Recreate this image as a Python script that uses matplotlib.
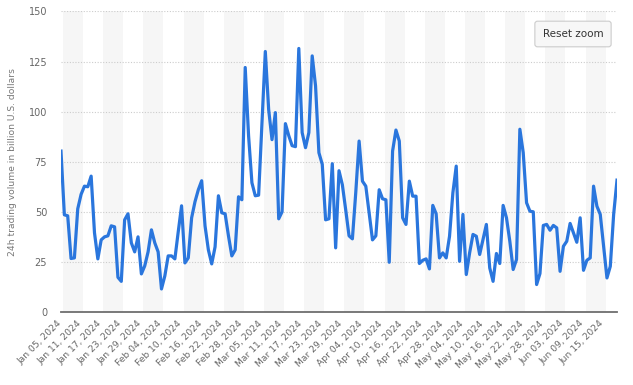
import matplotlib

matplotlib.use("Agg")
import matplotlib.pyplot as plt
import numpy as np
import pandas as pd

# daily 24h trading volume (billion USD), starting Jan 05, 2024
start_date = "2024-01-05"
volume = [
    80.3, 48.5, 48, 26.7, 27, 51.5, 58.7, 62.8, 62.5, 67.8,
    39.5, 26.5, 36, 37.5, 38, 43, 42.5, 17.3, 15.3, 46,
    49, 34.5, 30, 37.5, 19, 23, 30, 41, 34.5, 30,
    11.5, 18, 28, 28, 26.5, 40, 53, 24.5, 27, 47,
    55, 61, 65.5, 43, 31, 24, 32.5, 58, 49.5, 49,
    38, 28, 31, 57.5, 56, 122, 88, 64.5, 58, 58.3,
    94, 130, 101, 86, 99.5, 46.5, 50, 94, 88, 83,
    82.5, 131.5, 89.5, 82, 89.5, 127.8, 112.8, 79.5, 73.7, 46,
    46.5, 74, 32, 70.5, 63.5, 51, 38, 36.5, 59.5, 85.3,
    65.3, 62.8, 49.5, 36, 38, 61, 56.5, 56, 24.8, 80.3,
    90.8, 85.3, 47, 43.7, 65.3, 57.8, 57.8, 24.2, 25.8, 26.5,
    21.5, 53.2, 49, 27, 29.5, 27, 37.8, 59.5, 72.8, 25.3,
    48.7, 18.7, 29.5, 38.7, 37.8, 28.7, 36.2, 43.7, 22, 15.3,
    29.2, 24.2, 53.2, 47, 35.3, 21.2, 26.2, 91.2, 79.5, 54.5,
    50.3, 50, 13.7, 19.2, 43.2, 43.7, 40.8, 43.2, 42, 20.3,
    32.8, 35.3, 44.2, 39.5, 34.8, 47, 20.8, 25.8, 27, 62.8,
    52.8, 48.7, 32.8, 17, 22.8, 48.7, 65.8,
]
tick_dates = pd.date_range("2024-01-05", "2024-06-15", freq="6D")
tick_labels = [d.strftime("%b %d, %Y") for d in tick_dates]
y_ticks = [0, 25, 50, 75, 100, 125, 150]

BLUE = "#2a76dd"
GREY_TXT = "#666666"

days = np.arange(len(volume))
tick_pos = (tick_dates - pd.Timestamp(start_date)).days.values + 0.6

fig = plt.figure(figsize=(6.33, 3.85), dpi=100)
ax = fig.add_axes([61 / 633, 73 / 385, 556 / 633, 300.6 / 385])

# alternating bands between x ticks
for i in range(0, len(tick_pos) - 1, 2):
    ax.axvspan(tick_pos[i], tick_pos[i + 1], color="#f6f6f6", lw=0, zorder=0)

for yv in y_ticks[1:]:
    ax.axhline(yv, color="#cccccc", lw=0.8, ls=(0, (1, 1.5)), zorder=1)

ax.plot(days, volume, color=BLUE, lw=2.3, solid_joinstyle="round", zorder=3)

ax.set_xlim(0, len(volume) - 1)
ax.set_ylim(0, 150)
ax.set_yticks(y_ticks)
ax.set_yticklabels([str(v) for v in y_ticks])
ax.set_xticks(tick_pos)
ax.set_xticklabels(tick_labels, rotation=45, ha="right")

for s in ["top", "right", "left"]:
    ax.spines[s].set_visible(False)
ax.spines["bottom"].set_color("#6e6e6e")
ax.spines["bottom"].set_linewidth(1.3)
ax.spines["bottom"].set_zorder(4)

ax.tick_params(axis="y", length=0, pad=10, labelsize=7, labelcolor=GREY_TXT)
ax.tick_params(axis="x", length=0, pad=5, labelsize=6.6, labelcolor=GREY_TXT)
ax.set_ylabel("24h trading volume in billion U.S. dollars", fontsize=6.6,
              color="#777777", labelpad=8)

fig.text(573 / 633, 1 - 34 / 385, "Reset zoom", fontsize=7.5, color="#333333",
         ha="center", va="center",
         bbox=dict(boxstyle="round,pad=0.75,rounding_size=0.25", fc="#f7f7f7",
                   ec="#cccccc", lw=0.8))

fig.savefig("out.png", dpi=100)
